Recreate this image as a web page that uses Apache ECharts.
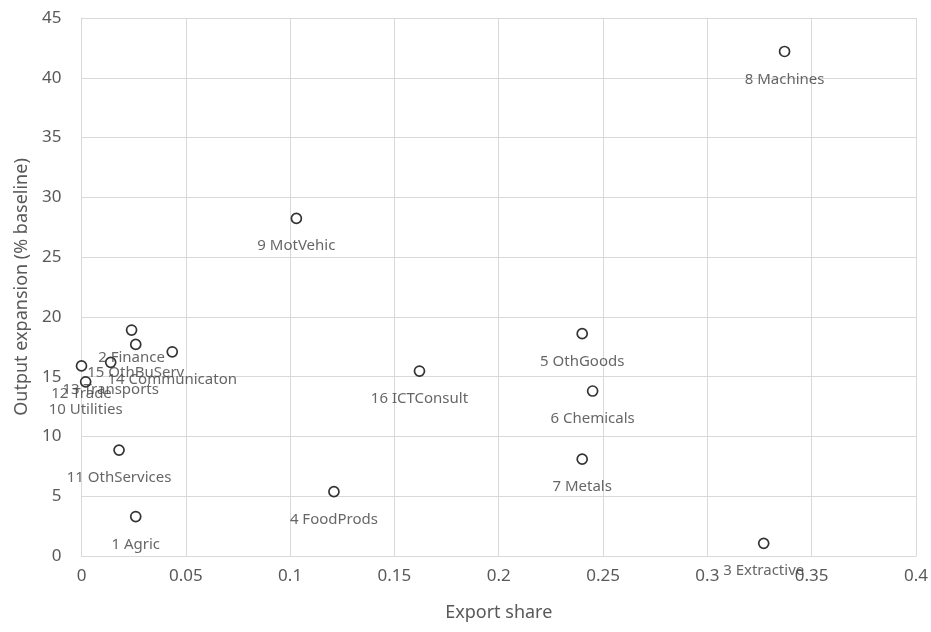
<!DOCTYPE html>
<html>
<head>
<meta charset="utf-8">
<script src="https://cdn.jsdelivr.net/npm/echarts@6/dist/echarts.min.js"></script>
<style>
  html, body { margin: 0; padding: 0; background: #ffffff; }
  #chart { width: 931px; height: 632px; }
</style>
</head>
<body>
<div id="chart"></div>
<script>
// Sector labels, export shares and output expansion (% of baseline)
const sectorNames = [
  '1 Agric', '2 Finance', '3 Extractive', '4 FoodProds', '5 OthGoods',
  '6 Chemicals', '7 Metals', '8 Machines', '9 MotVehic', '10 Utilities',
  '11 OthServices', '12 Trade', '13 Transports', '14 Communicaton',
  '15 OthBuServ', '16 ICTConsult'
];
const exportShare = [
  0.026, 0.024, 0.327, 0.121, 0.240,
  0.245, 0.240, 0.337, 0.103, 0.002,
  0.018, 0.000, 0.014, 0.0435,
  0.026, 0.162
];
const outputExpansion = [
  3.3, 18.9, 1.06, 5.38, 18.6,
  13.8, 8.1, 42.2, 28.24, 14.57,
  8.86, 15.9, 16.2, 17.08,
  17.7, 15.47
];
const xTicks = { min: 0, max: 0.4, interval: 0.05 };
const yTicks = { min: 0, max: 45, interval: 5 };

const points = sectorNames.map((name, i) => ({
  name: name,
  value: [exportShare[i], outputExpansion[i]]
}));

const FONT = '"Noto Sans", sans-serif';
const chart = echarts.init(document.getElementById('chart'), null, { renderer: 'canvas' });

chart.setOption({
  animation: false,
  backgroundColor: '#ffffff',
  grid: { left: 81.5, right: 15, top: 18, bottom: 76, containLabel: false },
  xAxis: {
    type: 'value',
    min: xTicks.min, max: xTicks.max, interval: xTicks.interval,
    name: 'Export share',
    nameLocation: 'middle',
    nameGap: 48,
    nameTextStyle: { color: '#595959', fontSize: 18, fontFamily: FONT },
    axisLine: { show: true, lineStyle: { color: '#d9d9d9', width: 1 } },
    axisTick: { show: false },
    axisLabel: { color: '#595959', fontSize: 17, fontFamily: FONT, margin: 12 },
    splitLine: { show: true, lineStyle: { color: '#d9d9d9', width: 1 } }
  },
  yAxis: {
    type: 'value',
    min: yTicks.min, max: yTicks.max, interval: yTicks.interval,
    name: 'Output expansion (% baseline)',
    nameLocation: 'middle',
    nameGap: 49,
    nameTextStyle: { color: '#595959', fontSize: 18, fontFamily: FONT },
    axisLine: { show: true, lineStyle: { color: '#d9d9d9', width: 1 } },
    axisTick: { show: false },
    axisLabel: { color: '#595959', fontSize: 17, fontFamily: FONT, margin: 20 },
    splitLine: { show: true, lineStyle: { color: '#d9d9d9', width: 1 } }
  },
  series: [{
    type: 'scatter',
    data: points,
    symbol: 'circle',
    symbolSize: 10,
    itemStyle: { color: '#ffffff', borderColor: '#000000', borderWidth: 1.7 },
    label: {
      show: true,
      position: 'bottom',
      distance: 14.5,
      formatter: p => p.name,
      color: '#404040',
      fontSize: 15,
      fontFamily: FONT
    },
    emphasis: { disabled: true }
  }]
});
</script>
</body>
</html>
